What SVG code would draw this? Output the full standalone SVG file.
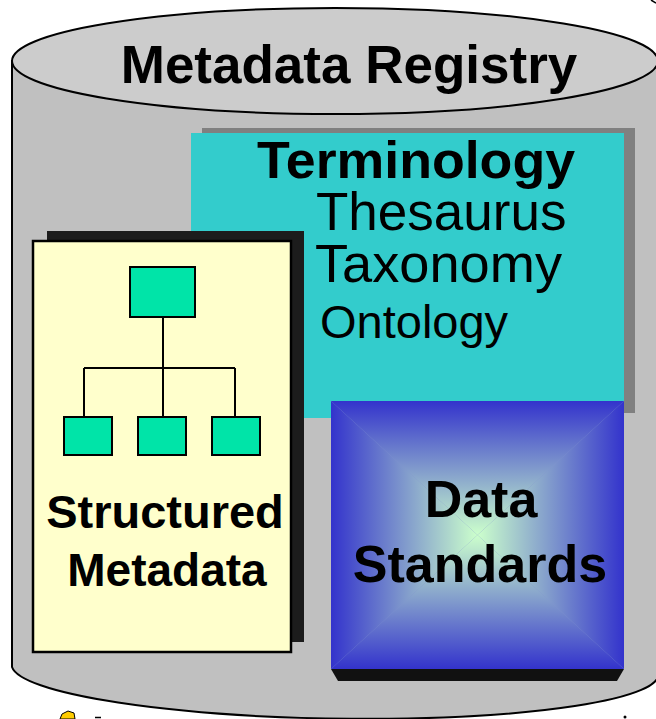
<svg xmlns="http://www.w3.org/2000/svg" width="656" height="719" viewBox="0 0 656 719">
  <defs>
    <style>
      .bold { font-family: "Liberation Sans", Arial, sans-serif; font-weight: bold; fill: #000; }
      .reg { font-family: "Liberation Sans", Arial, sans-serif; font-weight: normal; fill: #000; }
      .node { fill: #00e4a8; stroke: #000; stroke-width: 2; }
      .link { fill: none; stroke: #000; stroke-width: 2; }
    </style>
    <!-- rectangular "from centre" fill, built from four triangles -->
    <linearGradient id="gTop" gradientUnits="userSpaceOnUse" x1="0" y1="401" x2="0" y2="535">
      <stop offset="0" stop-color="#3333cc"/>
      <stop offset="1" stop-color="#ccffcc"/>
    </linearGradient>
    <linearGradient id="gBottom" gradientUnits="userSpaceOnUse" x1="0" y1="669" x2="0" y2="535">
      <stop offset="0" stop-color="#3333cc"/>
      <stop offset="1" stop-color="#ccffcc"/>
    </linearGradient>
    <linearGradient id="gLeft" gradientUnits="userSpaceOnUse" x1="331" y1="0" x2="477.5" y2="0">
      <stop offset="0" stop-color="#3333cc"/>
      <stop offset="1" stop-color="#ccffcc"/>
    </linearGradient>
    <linearGradient id="gRight" gradientUnits="userSpaceOnUse" x1="624" y1="0" x2="477.5" y2="0">
      <stop offset="0" stop-color="#3333cc"/>
      <stop offset="1" stop-color="#ccffcc"/>
    </linearGradient>
  </defs>

  <rect width="656" height="719" fill="#ffffff"/>

  <!-- registry cylinder -->
  <g id="registry">
    <path d="M12,61 L12,667 A323,49 0.9 0 0 658,672 L658,61 Z" fill="#c0c0c0" stroke="#000" stroke-width="2"/>
    <ellipse cx="335" cy="61" rx="323" ry="53" fill="#cccccc" stroke="#000" stroke-width="2"/>
    <text class="bold" x="349" y="83" font-size="53" text-anchor="middle">Metadata Registry</text>
  </g>

  <!-- terminology panel -->
  <g id="terminology">
    <rect x="202" y="128" width="433" height="285" fill="#808080"/>
    <rect x="191" y="133" width="433" height="285" fill="#33cccc"/>
    <text class="bold" x="257" y="178" font-size="52" textLength="318" lengthAdjust="spacingAndGlyphs">Terminology</text>
    <text class="reg" x="316" y="230" font-size="53">Thesaurus</text>
    <text class="reg" x="315" y="282" font-size="53" textLength="247" lengthAdjust="spacingAndGlyphs">Taxonomy</text>
    <text class="reg" x="320" y="338" font-size="47">Ontology</text>
  </g>

  <!-- structured metadata panel -->
  <g id="structured-metadata">
    <rect x="47" y="231" width="257" height="411" fill="#1c1c1c"/>
    <rect x="33" y="241" width="258" height="411" fill="#ffffcc" stroke="#000" stroke-width="2.5"/>
    <text class="bold" x="165" y="528" font-size="47" text-anchor="middle">Structured</text>
    <text class="bold" x="167" y="586" font-size="46" text-anchor="middle">Metadata</text>
  </g>

  <!-- hierarchy connectors -->
  <g id="connectors">
    <path class="link" d="M163,317 V368 M84,368 H235 M84,368 V417 M163,368 V417 M235,368 V417"/>
  </g>

  <!-- hierarchy nodes -->
  <g id="tree-root"><rect class="node" x="130" y="267" width="65" height="50"/></g>
  <g id="tree-child-1"><rect class="node" x="64" y="417" width="48" height="38"/></g>
  <g id="tree-child-2"><rect class="node" x="138" y="417" width="48" height="38"/></g>
  <g id="tree-child-3"><rect class="node" x="212" y="417" width="48" height="38"/></g>

  <!-- data standards block -->
  <g id="data-standards">
    <polygon points="331,669 624,669 617,681 338,681" fill="#111111"/>
    <rect x="331" y="401" width="293" height="268" fill="#8090d0"/>
    <polygon points="331,401 624,401 477.5,535" fill="url(#gTop)"/>
    <polygon points="331,669 624,669 477.5,535" fill="url(#gBottom)"/>
    <polygon points="331,401 331,669 477.5,535" fill="url(#gLeft)"/>
    <polygon points="624,401 624,669 477.5,535" fill="url(#gRight)"/>
    <text class="bold" x="481" y="517" font-size="52" text-anchor="middle">Data</text>
    <text class="bold" x="480" y="582" font-size="52" text-anchor="middle">Standards</text>
  </g>

  <!-- small marks along the lower edge -->
  <g id="edge-marks">
    <polygon points="60,719 62,714 68,711 74,713 75,719" fill="#ffcc00" stroke="#000" stroke-width="1"/>
    <line x1="95" y1="717.5" x2="101" y2="717.5" stroke="#000" stroke-width="1.5"/>
    <circle cx="625" cy="717" r="1.5" fill="#000"/>
    <line x1="651" y1="0" x2="656" y2="3" stroke="#000" stroke-width="1.5"/>
  </g>
</svg>
